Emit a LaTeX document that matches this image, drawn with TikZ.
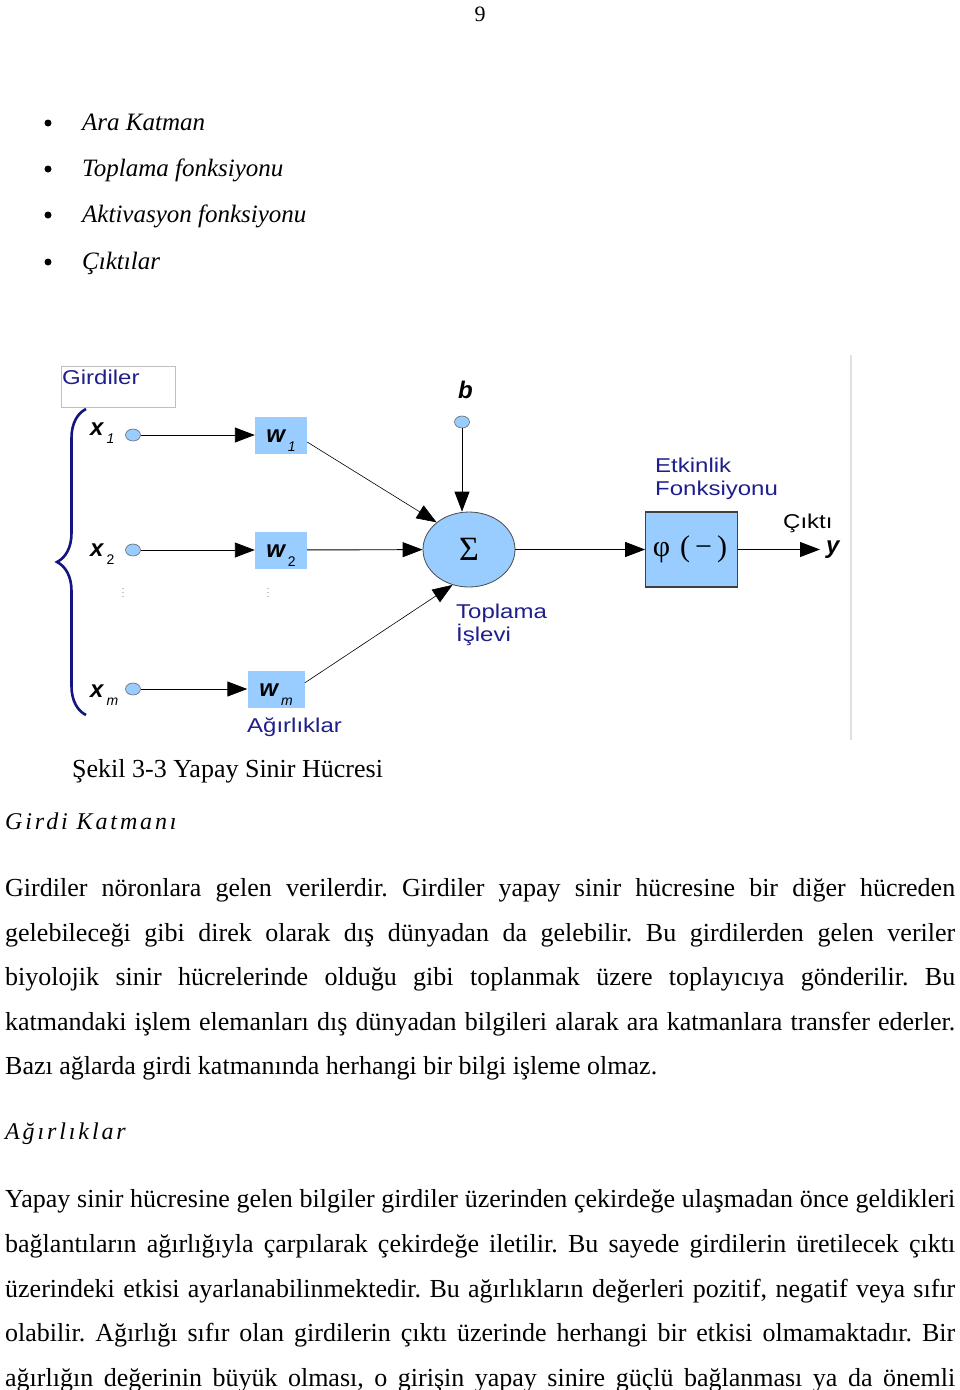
\documentclass[tikz,border=0pt]{standalone}
\usepackage{fontspec}
\setmainfont{Liberation Serif}
\newfontfamily\diagfont[FakeStretch=1.2]{Liberation Sans}
\newfontfamily\labfont{Liberation Sans}
\newfontfamily\headfont[LetterSpace=12]{Liberation Serif}
\usetikzlibrary{arrows.meta,shapes.geometric,decorations.pathreplacing}
\frenchspacing

\definecolor{cellblue}{RGB}{153,204,255}
\definecolor{labnavy}{RGB}{30,30,140}
\definecolor{bracenavy}{RGB}{20,20,130}

% symbol with a lowered index, as in the figure
\newcommand{\lowsub}[2]{#1\kern3pt\raisebox{-8.5pt}{\fontsize{14}{14}\selectfont\mdseries\upshape #2}}
% a justified line of the page text
\newcommand{\fullline}[1]{\makebox[950pt][s]{#1}}

\tikzset{
  bodyline/.style={anchor=base west, inner sep=0pt, font=\fontsize{26}{26}\selectfont},
  headline/.style={anchor=base west, inner sep=0pt, font=\headfont\itshape\fontsize{24}{24}\selectfont},
  listitem/.style={anchor=base west, inner sep=0pt, font=\itshape\fontsize{25}{25}\selectfont},
  bluetext/.style={inner sep=0pt, text=labnavy, font=\diagfont\fontsize{20}{20}\selectfont},
  symlab/.style={inner sep=0pt, font=\labfont\bfseries\itshape\fontsize{24}{24}\selectfont},
  inpdot/.style={ellipse, draw=black!60, fill=cellblue, line width=0.6pt, minimum width=15pt, minimum height=12pt, inner sep=0pt},
  wcell/.style={rectangle, fill=cellblue, minimum height=37pt, inner sep=0pt, text height=17pt, text depth=2pt,
    font=\labfont\bfseries\itshape\fontsize{24}{24}\selectfont},
  sumcell/.style={ellipse, draw=black!70, fill=cellblue, line width=0.8pt, minimum width=92pt, minimum height=75pt, inner sep=0pt,
    font=\fontsize{34}{34}\selectfont},
  phibox/.style={rectangle, draw=black!75, fill=cellblue, line width=1.2pt, minimum width=91.5pt, minimum height=75pt, inner sep=0pt,
    font=\fontsize{30}{30}\selectfont},
  feed/.style={draw=black, line width=0.9pt, -{Triangle[length=20pt,width=15pt]}},
  slant/.style={feed, line width=0.6pt},
  bracepen/.style={draw=bracenavy, line width=2.6pt, decorate, decoration={brace, amplitude=29pt}},
  vdotsmark/.style={inner sep=0pt, text=black!45, font=\fontsize{10}{10}\selectfont}
}

\begin{document}
\begin{tikzpicture}[x=1pt,y=-1pt]
\useasboundingbox (0,0) rectangle (960,1390);

% page number and list
\node[anchor=base, inner sep=0pt, font=\fontsize{22}{22}\selectfont] (pagenum) at (480,21) {9};
\foreach \yy/\txt [count=\i] in {130/Ara Katman, 176/Toplama fonksiyonu, 222/Aktivasyon fonksiyonu, 269/Çıktılar}{
  \fill (48,\yy-7) circle (3.5);
  \node[listitem] (item\i) at (82,\yy) {\txt};
}

% figure
\draw[black!12, line width=2pt] (851,355) -- (851,740);
\node[draw=black!25, fill=white, line width=0.8pt, minimum width=114pt, minimum height=41pt, anchor=north west, inner sep=0pt] (girbox) at (61,366) {};
\node[bluetext, anchor=base west] (girlab) at (62,384) {Girdiler};
\draw[bracepen] (86,715) -- (86,409);

\foreach \row/\yy/\xb/\wx/\ww/\sub in {1/435/435/281/52/\textit{1}, 2/550/556/281/52/2, m/689/697/276/57/\textit{m}}{
  \node[symlab, anchor=base west] (x\row) at (90,\xb) {\lowsub{x}{\sub}};
  \node[inpdot] (d\row) at (133,\yy) {};
  \node[wcell, minimum width=\ww pt] (w\row) at (\wx,\yy) {\lowsub{w}{\sub}};
  \draw[feed] (d\row) -- (w\row);
}
\node[vdotsmark] (vd1) at (123,590) {$\vdots$};
\node[vdotsmark] (vd2) at (268,590) {$\vdots$};
\node[bluetext, anchor=base west] (agir) at (247,732) {Ağırlıklar};

\node[symlab, anchor=base west] (blab) at (458,398) {b};
\node[inpdot] (bdot) at (462,422) {};
\node[sumcell] (sum) at (469,549.5) {\raisebox{-4pt}{Σ}};
\node[bluetext, anchor=base west] (topl1) at (456,618) {Toplama};
\node[bluetext, anchor=base west] (topl2) at (456,641) {İşlevi};

\node[phibox] (phi) at (691.5,549.5) {\kern-3pt φ\hspace{10pt}(\,−\,)};
\node[bluetext, anchor=base west] (etk1) at (655,472) {Etkinlik};
\node[bluetext, anchor=base west] (etk2) at (655,495) {Fonksiyonu};
\node[bluetext, text=black, anchor=base west] (cikti) at (783,528) {Çıktı};
\node[symlab, anchor=base west] (ylab) at (826,553) {y};

\draw[feed] (bdot) -- (bdot |- sum.north);
\draw[slant] (w1.-15) -- (sum.140);
\draw[feed] (w2) -- (sum);
\draw[slant] (wm.12) -- (sum.245);
\draw[feed] (sum) -- (phi);
\draw[feed, shorten >=6pt] (phi.east) -- (phi.east -| ylab.west);

% text below the figure
\node[bodyline] (caption) at (72,777) {Şekil 3-3 Yapay Sinir Hücresi};
\node[headline] (head1) at (5,829) {Girdi Katmanı};
\node[bodyline] (p1a) at (5,896) {\fullline{Girdiler nöronlara gelen verilerdir. Girdiler yapay sinir hücresine bir diğer hücreden}};
\node[bodyline] (p1b) at (5,941) {\fullline{gelebileceği gibi direk olarak dış dünyadan da gelebilir. Bu girdilerden gelen veriler}};
\node[bodyline] (p1c) at (5,985) {\fullline{biyolojik sinir hücrelerinde olduğu gibi toplanmak üzere toplayıcıya gönderilir. Bu}};
\node[bodyline] (p1d) at (5,1030) {\fullline{katmandaki işlem elemanları dış dünyadan bilgileri alarak ara katmanlara transfer ederler.}};
\node[bodyline] (p1e) at (5,1074) {Bazı ağlarda girdi katmanında herhangi bir bilgi işleme olmaz.};

\node[headline] (head2) at (5,1139) {Ağırlıklar};
\node[bodyline] (p2a) at (5,1207) {\fullline{Yapay sinir hücresine gelen bilgiler girdiler üzerinden çekirdeğe ulaşmadan önce geldikleri}};
\node[bodyline] (p2b) at (5,1252) {\fullline{bağlantıların ağırlığıyla çarpılarak çekirdeğe iletilir. Bu sayede girdilerin üretilecek çıktı}};
\node[bodyline] (p2c) at (5,1297) {\fullline{üzerindeki etkisi ayarlanabilinmektedir. Bu ağırlıkların değerleri pozitif, negatif veya sıfır}};
\node[bodyline] (p2d) at (5,1341) {\fullline{olabilir. Ağırlığı sıfır olan girdilerin çıktı üzerinde herhangi bir etkisi olmamaktadır. Bir}};
\node[bodyline] (p2e) at (5,1386) {\fullline{ağırlığın değerinin büyük olması, o girişin yapay sinire güçlü bağlanması ya da önemli}};
\end{tikzpicture}
\end{document}
